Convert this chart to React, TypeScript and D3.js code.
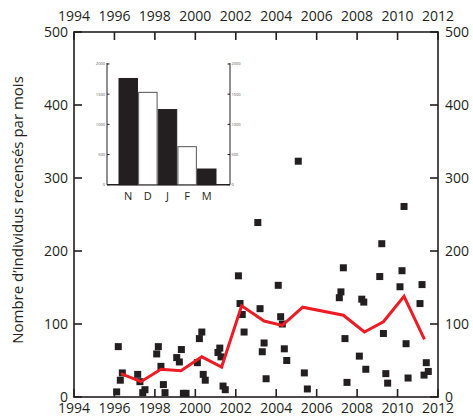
import * as React from "react"
import * as d3 from "d3"

// monthly counts (scatter), decimal years
const pointYears = [
    1996.11, 1996.19, 1996.29, 1996.39, 1997.15, 1997.26, 1997.40, 1997.51,
    1998.09, 1998.17, 1998.30, 1998.42, 1998.50, 1999.08, 1999.21, 1999.31, 1999.41, 1999.54,
    2000.10, 2000.20, 2000.32, 2000.39, 2000.49, 2001.12, 2001.21, 2001.27, 2001.37, 2001.48,
    2002.13, 2002.21, 2002.32, 2002.41, 2003.09, 2003.20, 2003.31, 2003.40, 2003.50,
    2004.10, 2004.22, 2004.30, 2004.40, 2004.52, 2005.09, 2005.39, 2005.54,
    2007.12, 2007.20, 2007.32, 2007.40, 2007.50, 2008.11, 2008.23, 2008.33, 2008.43,
    2009.12, 2009.22, 2009.30, 2009.42, 2009.51, 2010.12, 2010.22, 2010.32, 2010.42, 2010.52,
    2011.11, 2011.21, 2011.31, 2011.42, 2011.52,
]
const pointValues = [
    7, 69, 23, 33, 31, 21, 6, 10,
    59, 69, 42, 17, 6, 54, 48, 65, 5, 5,
    47, 80, 89, 31, 23, 61, 67, 55, 15, 10,
    166, 128, 113, 89, 239, 121, 62, 74, 25,
    153, 110, 100, 66, 50, 323, 33, 11,
    136, 144, 177, 80, 20, 56, 134, 130, 38,
    165, 210, 87, 32, 19, 151, 173, 261, 73, 26,
    128, 154, 30, 47, 35,
]

// yearly mean (red line)
const meanYears = [1996.32, 1997.31, 1998.30, 1999.29, 2000.32, 2001.30, 2002.29, 2003.40, 2004.30, 2005.31, 2007.32, 2008.36, 2009.30, 2010.32, 2011.33]
const meanValues = [32, 21, 38, 36, 55, 41, 125, 104, 98, 123, 112, 89, 103, 138, 79]

// inset: totals per month
const months = ["N", "D", "J", "F", "M"]
const monthTotals = [1760, 1530, 1245, 630, 260]
const monthFilled = [true, false, true, false, true]

const yearTicks = [1994, 1996, 1998, 2000, 2002, 2004, 2006, 2008, 2010, 2012]
const countTicks = [0, 100, 200, 300, 400, 500]
const insetTicks = [0, 500, 1000, 1500, 2000]

const yTitle = "Nombre d\u2019individus recensés par mois"

export default function App() {
    const svgRef = React.useRef<SVGSVGElement>(null)

    React.useEffect(() => {
        if (!svgRef.current) return
        const svg = d3.select(svgRef.current)
        svg.selectAll("*").remove()

        const ink = "#231f20"
        const font = "'Open Sans', sans-serif"

        const x = d3.scaleLinear().domain([1994, 2012]).range([74, 438])
        const y = d3.scaleLinear().domain([0, 500]).range([397, 32])
        const [x0, x1] = x.range()
        const [y0, y1] = y.range()
        const tick = 8

        const axes = svg.append("g").attr("stroke", ink).attr("stroke-width", 1.6).attr("fill", "none")
        axes.append("rect").attr("x", x0).attr("y", y1).attr("width", x1 - x0).attr("height", y0 - y1)

        // year ticks, top and bottom, pointing inside
        yearTicks.forEach(t => {
            axes.append("line").attr("x1", x(t)).attr("x2", x(t)).attr("y1", y0).attr("y2", y0 - tick)
            axes.append("line").attr("x1", x(t)).attr("x2", x(t)).attr("y1", y1).attr("y2", y1 + tick)
        })
        countTicks.forEach(t => {
            axes.append("line").attr("x1", x0).attr("x2", x0 + tick).attr("y1", y(t)).attr("y2", y(t))
            axes.append("line").attr("x1", x1).attr("x2", x1 - tick).attr("y1", y(t)).attr("y2", y(t))
        })

        const labels = svg.append("g").attr("fill", ink).style("font-family", font).style("font-size", "14px")
        yearTicks.forEach(t => {
            labels.append("text").attr("x", x(t)).attr("y", 413).attr("text-anchor", "middle").text(t)
            labels.append("text").attr("x", x(t)).attr("y", 21).attr("text-anchor", "middle").text(t)
        })
        countTicks.forEach(t => {
            labels.append("text").attr("x", x0 - 6).attr("y", y(t)).attr("dy", "0.34em").attr("text-anchor", "end").text(t)
            labels.append("text").attr("x", x1 + 7).attr("y", y(t)).attr("dy", "0.34em").text(t)
        })
        labels.append("text")
            .attr("transform", "translate(23,210) rotate(-90)")
            .attr("text-anchor", "middle")
            .style("font-size", "15px")
            .text(yTitle)

        // squares
        const s = 7
        svg.append("g").selectAll("rect")
            .data(pointYears.map((d, i) => [d, pointValues[i]]))
            .join("rect")
            .attr("x", d => x(d[0]) - s / 2)
            .attr("y", d => y(d[1]) - s / 2)
            .attr("width", s)
            .attr("height", s)
            .attr("fill", ink)

        const line = d3.line<number>()
            .x((d, i) => x(meanYears[i]))
            .y(d => y(d))
        svg.append("path")
            .attr("d", line(meanValues))
            .attr("fill", "none")
            .attr("stroke", "#ed1c24")
            .attr("stroke-width", 3)
            .attr("stroke-linejoin", "miter")

        // inset bar chart
        const ix = d3.scaleBand().domain(months).range([119, 216]).paddingInner(0.06)
        const iy = d3.scaleLinear().domain([0, 2000]).range([184.7, 64])
        const ia = svg.append("g").attr("stroke", ink).attr("stroke-width", 1).attr("fill", "none")
        const il = 107, ir = 230
        ia.append("line").attr("x1", il).attr("x2", il).attr("y1", iy(2000) - 1).attr("y2", iy(0))
        ia.append("line").attr("x1", ir).attr("x2", ir).attr("y1", iy(2000) - 1).attr("y2", iy(0))
        ia.append("line").attr("x1", il).attr("x2", ir).attr("y1", iy(0)).attr("y2", iy(0)).attr("stroke-width", 1.4)
        insetTicks.forEach(t => {
            ia.append("line").attr("x1", il).attr("x2", il + 2.5).attr("y1", iy(t)).attr("y2", iy(t))
            ia.append("line").attr("x1", ir).attr("x2", ir - 2.5).attr("y1", iy(t)).attr("y2", iy(t))
        })

        svg.append("g").selectAll("rect")
            .data(months)
            .join("rect")
            .attr("x", d => ix(d)!)
            .attr("y", (d, i) => iy(monthTotals[i]))
            .attr("width", ix.bandwidth())
            .attr("height", (d, i) => iy(0) - iy(monthTotals[i]))
            .attr("fill", (d, i) => monthFilled[i] ? ink : "#fff")
            .attr("stroke", (d, i) => monthFilled[i] ? ink : "#555")
            .attr("stroke-width", 1)

        const il2 = svg.append("g").attr("fill", "#555").style("font-family", font).style("font-size", "4px")
        insetTicks.forEach(t => {
            il2.append("text").attr("x", il - 2).attr("y", iy(t)).attr("dy", "0.35em").attr("text-anchor", "end").text(t)
            il2.append("text").attr("x", ir + 1.5).attr("y", iy(t)).attr("dy", "0.35em").text(t)
        })
        svg.append("g").attr("fill", ink).style("font-family", font).style("font-size", "11px")
            .selectAll("text")
            .data(months)
            .join("text")
            .attr("x", d => ix(d)! + ix.bandwidth() / 2)
            .attr("y", 199.5)
            .attr("text-anchor", "middle")
            .text(d => d)
    }, [])

    return (
        <svg
            ref={svgRef}
            width={473}
            height={416}
            viewBox="0 0 473 416"
            style={{ position: "absolute", left: 0, top: 0, background: "#fff" }}
        />
    )
}
